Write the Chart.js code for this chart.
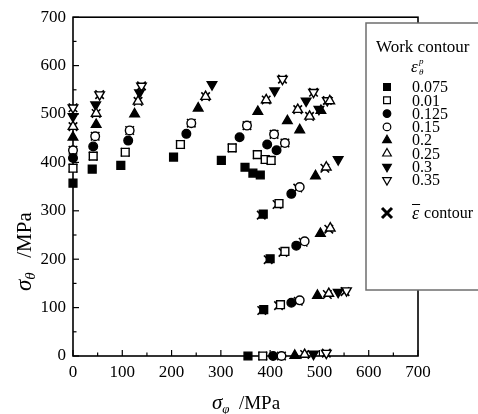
<!DOCTYPE html>
<html>
<head>
<meta charset="utf-8">
<script src="https://cdn.jsdelivr.net/npm/chart.js@4/dist/chart.umd.min.js"></script>
<style>
  html, body { margin: 0; padding: 0; background: #fff; }
  canvas { display: block; }
</style>
</head>
<body>
<canvas id="c" width="478" height="414" style="width:478px;height:414px"></canvas>
<script>
// Stress points [sigma_phi, sigma_theta] in MPa, one array per plastic work contour
const strain075 = [[0,357],[39,386],[97,394],[204,411],[301,404],[349,390],[365,378],[380,374],[386,293],[400,201],[387,96],[355,0]];
const strain010 = [[0,388],[41,413],[106,421],[218,437],[323,430],[374,416],[390,406],[402,404],[418,315],[430,216],[421,106],[385,0]];
const strain125 = [[0,409],[41,433],[112,445],[230,459],[338,452],[394,437],[413,425],[443,335],[453,228],[443,110],[406,0]];
const strain150 = [[0,425],[45,454],[115,466],[240,481],[353,476],[408,458],[430,440],[460,349],[470,237],[460,115],[423,0]];
const strain200 = [[0,452],[47,478],[125,500],[254,512],[375,505],[435,486],[460,467],[503,507],[492,372],[502,253],[496,125],[450,1]];
const strain250 = [[0,474],[47,501],[132,526],[269,536],[392,529],[456,509],[480,495],[521,527],[514,390],[522,264],[519,129],[470,3]];
const strain300 = [[0,495],[46,519],[135,544],[282,561],[409,548],[473,527],[499,510],[538,406],[538,132],[488,4]];
const strain350 = [[0,513],[54,540],[139,558],[425,572],[488,545],[516,528],[555,135],[514,6]];

// Equivalent strain contour points
const avgStrain = [
  [0,388],[0,425],[0,474],[0,513],
  [41,413],[45,454],[47,501],[54,540],
  [106,421],[115,466],[132,526],[139,558],
  [218,437],[240,481],[269,536],
  [323,430],[353,476],[392,529],[425,572],
  [374,416],[408,458],[456,509],[488,545],
  [390,406],[402,404],[430,440],[480,495],[516,528],
  [382,291],[414,313],[456,347],[511,388],
  [396,199],[426,214],[467,235],[519,262],
  [383,94],[417,104],[457,113],[516,127],[552,133],
  [385,0],[423,0],[470,3],[514,6]
];

const contourLabels = ['0.075','0.01','0.125','0.15','0.2','0.25','0.3','0.35'];
const stressTicks = [0,100,200,300,400,500,600,700];

const SERIF = '"Liberation Serif", "Times New Roman", serif';

const contourSeries = [
  { data: strain075, style: 'rect',     filled: true,  rot: 0,   r: 5.5 },
  { data: strain010, style: 'rect',     filled: false, rot: 0,   r: 5.5 },
  { data: strain125, style: 'circle',   filled: true,  rot: 0,   r: 4.3 },
  { data: strain150, style: 'circle',   filled: false, rot: 0,   r: 4.3 },
  { data: strain200, style: 'triangle', filled: true,  rot: 0,   r: 5.5 },
  { data: strain250, style: 'triangle', filled: false, rot: 0,   r: 5.5 },
  { data: strain300, style: 'triangle', filled: true,  rot: 180, r: 5.5 },
  { data: strain350, style: 'triangle', filled: false, rot: 180, r: 5.5 }
];

const toXY = arr => arr.map(([x, y]) => ({ x, y }));

const datasets = contourSeries.map((s, i) => ({
  label: contourLabels[i],
  data: toXY(s.data),
  showLine: false,
  pointStyle: s.style,
  pointRadius: s.r,
  pointHoverRadius: s.r,
  pointRotation: s.rot,
  backgroundColor: s.filled ? '#000' : '#fff',
  borderColor: '#000',
  pointBorderWidth: 1.4,
  clip: false
}));

datasets.push({
  label: 'avg',
  data: toXY(avgStrain),
  showLine: false,
  pointStyle: 'crossRot',
  pointRadius: 6,
  pointHoverRadius: 6,
  backgroundColor: '#000',
  borderColor: '#000',
  pointBorderWidth: 1.6,
  clip: false
});

function marker(ctx, style, x, y, r, filled, rot) {
  ctx.save();
  ctx.fillStyle = filled ? '#000' : '#fff';
  ctx.strokeStyle = '#000';
  ctx.lineWidth = 1.2;
  Chart.helpers.drawPoint(ctx, { pointStyle: style, radius: r, rotation: rot, borderWidth: 1.2 }, x, y);
  ctx.restore();
}

const framePlugin = {
  id: 'frame',
  beforeDatasetsDraw(chart) {
    const { ctx, chartArea: a, scales: { x, y } } = chart;
    ctx.save();
    ctx.strokeStyle = '#000';
    ctx.lineWidth = 1.6;
    ctx.strokeRect(a.left, a.top, a.right - a.left, a.bottom - a.top);
    ctx.lineWidth = 1.2;
    for (let v = 0; v <= 700; v += 50) {
      const len = v % 100 === 0 ? 6 : 3.5;
      const px = x.getPixelForValue(v);
      ctx.beginPath(); ctx.moveTo(px, a.bottom); ctx.lineTo(px, a.bottom - len); ctx.stroke();
      const py = y.getPixelForValue(v);
      ctx.beginPath(); ctx.moveTo(a.left, py); ctx.lineTo(a.left + len, py); ctx.stroke();
    }
    ctx.restore();
  },
  afterDraw(chart) {
    const { ctx } = chart;
    ctx.save();
    ctx.fillStyle = '#000';
    ctx.textBaseline = 'alphabetic';
    ctx.textAlign = 'left';

    // axis title pieces: sigma, subscript, unit
    const drawTitle = (sub, x0, y0, big) => {
      const s1 = big ? 23 : 21, s2 = big ? 15 : 13, s3 = big ? 21 : 19;
      ctx.font = 'italic ' + s1 + 'px ' + SERIF;
      const w1 = ctx.measureText('σ').width;
      ctx.fillText('σ', x0, y0);
      ctx.font = 'italic ' + s2 + 'px ' + SERIF;
      const w2 = ctx.measureText(sub).width;
      ctx.fillText(sub, x0 + w1, y0 + 4);
      ctx.font = s3 + 'px ' + SERIF;
      ctx.fillText('  /MPa', x0 + w1 + w2 + (big ? 4 : 0), y0);
    };
    const titleWidth = sub => {
      ctx.font = 'italic 21px ' + SERIF; let w = ctx.measureText('σ').width;
      ctx.font = 'italic 13px ' + SERIF; w += ctx.measureText(sub).width;
      ctx.font = '19px ' + SERIF; w += ctx.measureText('  /MPa').width;
      return w;
    };
    drawTitle('φ', 246 - titleWidth('φ') / 2, 409, false);

    ctx.save();
    ctx.translate(31, 291);
    ctx.rotate(-Math.PI / 2);
    drawTitle('θ', 0, 0, true);
    ctx.restore();

    // legend box
    const L = 366, T = 23, B = 290;
    ctx.fillStyle = '#fff';
    ctx.fillRect(L, T, 130, B - T);
    ctx.strokeStyle = '#6e6e6e';
    ctx.lineWidth = 1.5;
    ctx.strokeRect(L, T, 130, B - T);

    ctx.fillStyle = '#000';
    ctx.textBaseline = 'middle';
    ctx.font = '17px ' + SERIF;
    ctx.fillText('Work contour', 376, 48);

    ctx.font = 'italic 17px ' + SERIF;
    ctx.fillText('ε', 411, 68);
    ctx.font = 'italic 9px ' + SERIF;
    ctx.fillText('p', 419, 62);
    ctx.fillText('θ', 419, 73);

    const mx = 387, tx = 412;
    contourSeries.forEach((s, i) => {
      const yy = 87 + i * 13.3;
      const r = s.style === 'circle' ? 3.8 : (s.style === 'rect' ? 4.8 : 5);
      marker(ctx, s.style, mx, yy, r, s.filled, s.rot);
      ctx.fillStyle = '#000';
      ctx.font = '16px ' + SERIF;
      ctx.fillText(contourLabels[i], tx, yy + 1);
    });

    // equivalent strain entry
    const cy = 213;
    ctx.strokeStyle = '#000';
    ctx.lineWidth = 3;
    ctx.beginPath();
    ctx.moveTo(mx - 5, cy - 5); ctx.lineTo(mx + 5, cy + 5);
    ctx.moveTo(mx + 5, cy - 5); ctx.lineTo(mx - 5, cy + 5);
    ctx.stroke();
    ctx.font = 'italic 18px ' + SERIF;
    ctx.fillText('ε', 412, cy + 1);
    const we = ctx.measureText('ε').width;
    ctx.lineWidth = 1;
    ctx.beginPath(); ctx.moveTo(412, cy - 8.5); ctx.lineTo(412 + we + 1, cy - 8.5); ctx.stroke();
    ctx.font = '16px ' + SERIF;
    ctx.fillText(' contour', 412 + we + 1, cy + 1);

    ctx.restore();
  }
};

const axisCommon = {
  type: 'linear',
  min: 0,
  max: 700,
  grid: { display: false, drawTicks: false },
  border: { display: false },
  afterBuildTicks(scale) { scale.ticks = stressTicks.map(v => ({ value: v })); }
};

new Chart(document.getElementById('c'), {
  type: 'scatter',
  data: { datasets },
  options: {
    responsive: false,
    animation: false,
    events: [],
    layout: { padding: { top: 15, right: 60, left: 0, bottom: 0 } },
    plugins: { legend: { display: false }, tooltip: { enabled: false } },
    scales: {
      x: Object.assign({}, axisCommon, {
        ticks: { color: '#000', font: { family: SERIF, size: 17 }, padding: 6, maxRotation: 0 },
        afterFit(s) { s.height = 58; }
      }),
      y: Object.assign({}, axisCommon, {
        ticks: { color: '#000', font: { family: SERIF, size: 17 }, padding: 7 },
        afterFit(s) { s.width = 73; }
      })
    }
  },
  plugins: [framePlugin]
});
</script>
</body>
</html>
